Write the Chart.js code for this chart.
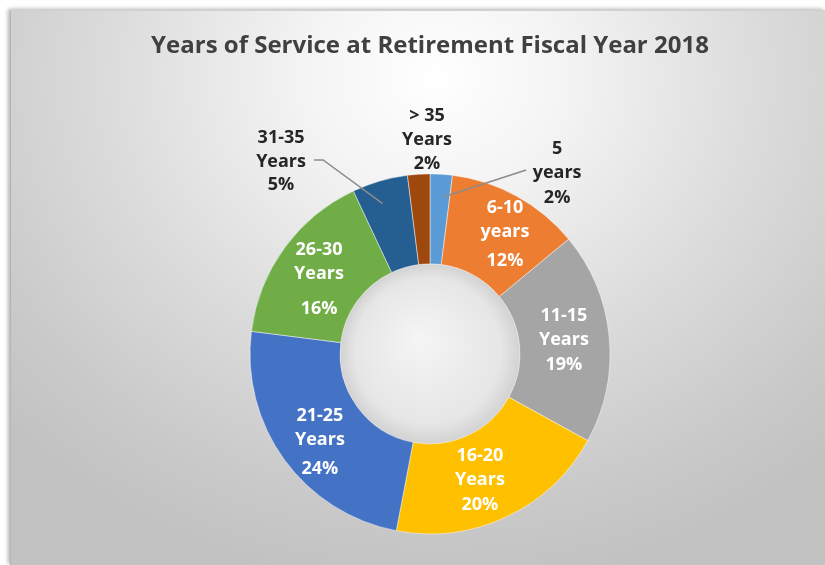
<!DOCTYPE html>
<html lang="en">
<head>
    <meta charset="UTF-8">
    <title>Years of Service at Retirement Fiscal Year 2018</title>
    <style>
    html, body {
        margin: 0;
        padding: 0;
        width: 825px;
        height: 565px;
        overflow: hidden;
        background-color: #ffffff;
    }
    .card {
        position: absolute;
        left: 10px;
        top: 10px;
        width: 815px;
        height: 555px;
        box-sizing: border-box;
        border-left: 1px solid #b4b4b4;
        border-top: 1px solid #d0d0d0;
        box-shadow: -2px -1px 4px rgba(0, 0, 0, 0.3);
        background: radial-gradient(ellipse 72% 92% at 52% 12%, #ffffff 0%, #f4f4f4 22%, #dcdcdc 55%, #c9c9c9 85%, #c2c2c2 100%);
    }
    .chart-box {
        position: absolute;
        left: 0;
        top: 0;
        width: 825px;
        height: 565px;
    }
    </style>
    <script src="https://cdn.jsdelivr.net/npm/chart.js"></script>
</head>
<body>
    <div class="card"></div>
    <div class="chart-box">
        <canvas id="serviceChart" width="825" height="565"></canvas>
    </div>

    <script>
    // data
    const categories = ['5 years', '6-10 years', '11-15 Years', '16-20 Years', '21-25 Years', '26-30 Years', '31-35 Years', '> 35 Years'];
    const labelTop = ['5', '6-10', '11-15', '16-20', '21-25', '26-30', '31-35', '> 35'];
    const labelMid = ['years', 'years', 'Years', 'Years', 'Years', 'Years', 'Years', 'Years'];
    const percents = [2, 12, 19, 20, 24, 16, 5, 2];
    const sliceColors = ['#5B9BD5', '#ED7D31', '#A5A5A5', '#FFC000', '#4472C4', '#70AD47', '#255E91', '#9E480E'];

    // label placement: angle shift (deg) from slice middle, distance as share of outer radius,
    // gap before the % line, inside or outside
    const placeShift = [31.5, 2.8, -0.6, 3.6, -2, -0.2, -21.6, 2.8];
    const placeDist = [1.228, 0.795, 0.748, 0.753, 0.776, 0.76, 1.35, 1.19];
    const pctGap = [25, 29, 25, 25, 29, 35, 23, 24];
    const outside = [true, false, false, false, false, false, true, true];

    const labelPlugin = {
        id: 'sliceLabels',
        beforeDatasetsDraw(chart) {
            // soft hole in the middle
            const arc = chart.getDatasetMeta(0).data[0];
            const p = arc.getProps(['x', 'y', 'innerRadius'], true);
            const ctx = chart.ctx;
            const g = ctx.createRadialGradient(p.x - 10, p.y - 15, 5, p.x, p.y, p.innerRadius);
            g.addColorStop(0, '#f4f4f4');
            g.addColorStop(0.8, '#e6e6e6');
            g.addColorStop(1, '#d2d2d2');
            ctx.save();
            ctx.beginPath();
            ctx.arc(p.x, p.y, p.innerRadius, 0, Math.PI * 2);
            ctx.fillStyle = g;
            ctx.fill();
            ctx.restore();
        },
        afterDatasetsDraw(chart) {
            const ctx = chart.ctx;
            const meta = chart.getDatasetMeta(0);
            ctx.save();
            ctx.font = 'bold 18px "Open Sans"';
            ctx.textAlign = 'center';
            ctx.textBaseline = 'middle';
            meta.data.forEach((arc, i) => {
                const p = arc.getProps(['x', 'y', 'startAngle', 'endAngle', 'outerRadius'], true);
                const mid = (p.startAngle + p.endAngle) / 2;
                const ang = mid + placeShift[i] * Math.PI / 180;
                const r = placeDist[i] * p.outerRadius;
                const lx = p.x + Math.cos(ang) * r;
                const ly = p.y + Math.sin(ang) * r;

                // leader lines for the two thin slices with labels pushed aside
                if (i === 0 || i === 6) {
                    const a0 = mid + (i === 0 ? 1.2 : -1.3) * Math.PI / 180;
                    const sx = p.x + Math.cos(a0) * 0.875 * p.outerRadius;
                    const sy = p.y + Math.sin(a0) * 0.875 * p.outerRadius;
                    ctx.beginPath();
                    ctx.strokeStyle = '#8c8c8c';
                    ctx.lineWidth = 1.5;
                    ctx.moveTo(sx, sy);
                    if (i === 0) {
                        ctx.lineTo(lx - 31, ly - 3);
                    } else {
                        ctx.lineTo(lx + 42, ly - 2);
                        ctx.lineTo(lx + 33, ly - 2);
                    }
                    ctx.stroke();
                }

                ctx.fillStyle = outside[i] ? '#262626' : '#ffffff';
                ctx.fillText(labelTop[i], lx, ly - 24);
                ctx.fillText(labelMid[i], lx, ly);
                ctx.fillText(percents[i] + '%', lx, ly + pctGap[i]);
            });
            ctx.restore();
        }
    };

    const ctx = document.getElementById('serviceChart').getContext('2d');
    new Chart(ctx, {
        type: 'doughnut',
        data: {
            labels: categories,
            datasets: [{
                data: percents,
                backgroundColor: sliceColors,
                borderColor: 'rgba(255, 255, 255, 0.45)',
                borderWidth: 1,
                radius: 180,
                cutout: '50%',
                hoverOffset: 0
            }]
        },
        options: {
            responsive: false,
            animation: false,
            layout: {
                padding: { left: 45, right: 10, top: 22, bottom: 10 }
            },
            plugins: {
                legend: { display: false },
                tooltip: { enabled: false },
                title: {
                    display: true,
                    text: 'Years of Service at Retirement Fiscal Year 2018',
                    color: '#404040',
                    font: { family: 'Open Sans', size: 24, weight: 'bold' },
                    padding: { top: 10, bottom: 92 }
                }
            }
        },
        plugins: [labelPlugin]
    });
    </script>
</body>
</html>
